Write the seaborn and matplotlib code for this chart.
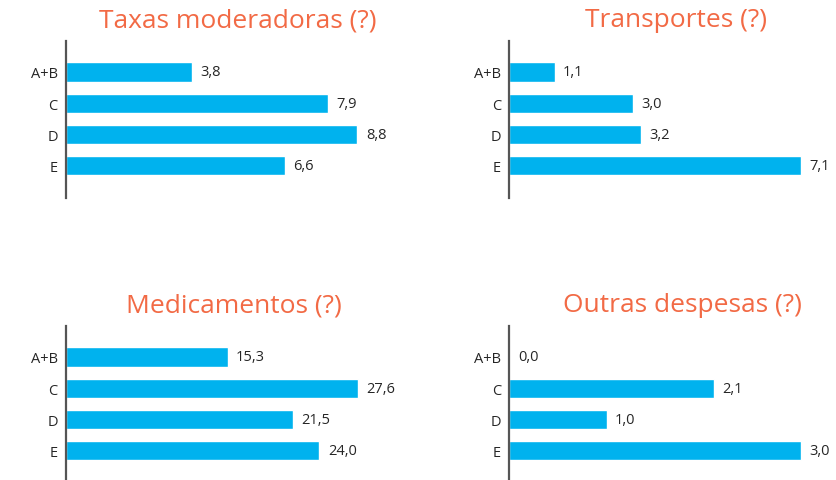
import matplotlib
matplotlib.use("Agg")
from matplotlib import pyplot as plt
from pandas import DataFrame
import seaborn as sns

# data
categories = ["A+B", "C", "D", "E"]
titles = ["Taxas moderadoras (?)", "Transportes (?)", "Medicamentos (?)", "Outras despesas (?)"]
taxas = [3.8, 7.9, 8.8, 6.6]
transportes = [1.1, 3.0, 3.2, 7.1]
medicamentos = [15.3, 27.6, 21.5, 24.0]
outras = [0.0, 2.1, 1.0, 3.0]
series = [taxas, transportes, medicamentos, outras]

BAR = "#00B2EE"
TITLE = "#F26A45"
TEXT = "#262626"

sns.set_style("white")
plt.rcParams["font.family"] = ["Open Sans", "DejaVu Sans"]

W, H = 837, 481
fig = plt.figure(figsize=(W / 100, H / 100), dpi=100)

# axes boxes in pixels: left, top, width, height
boxes = [(66, 42, 320, 157), (509.5, 42, 320, 157),
         (66, 327, 320, 154), (509.5, 327, 320, 154)]
ylims = [(4.03, -0.99), (4.03, -0.99), (3.93, -0.99), (3.93, -0.99)]
title_x = [0.5375, 0.52, 0.525, 0.539]

for i, (vals, title) in enumerate(zip(series, titles)):
    l, t, w, h = boxes[i]
    ax = fig.add_axes([l / W, (H - t - h) / H, w / W, h / H])
    df = DataFrame({"cat": categories, "val": vals})
    sns.barplot(data=df, x="val", y="cat", orient="h", color=BAR,
                saturation=1, width=0.61, ax=ax)
    ax.set_xlim(0, max(vals) * 320 / 291.5)
    ax.set_ylim(*ylims[i])
    ax.bar_label(ax.containers[0],
                 labels=[f"{v:.1f}".replace(".", ",") for v in vals],
                 padding=6, fontsize=10.5, color=TEXT, clip_on=False)
    sns.despine(ax=ax, top=True, right=True, bottom=True, left=False)
    ax.spines["left"].set_color("#555555")
    ax.spines["left"].set_linewidth(1.6)
    ax.set_xticks([])
    ax.set_xlabel("")
    ax.set_ylabel("")
    ax.tick_params(axis="y", length=0, pad=6, labelsize=10.5, labelcolor=TEXT)
    ax.text(title_x[i], 1 + 21 / h, title, transform=ax.transAxes,
            ha="center", va="center", fontsize=19, color=TITLE)

fig.savefig("out.png", dpi=100)
